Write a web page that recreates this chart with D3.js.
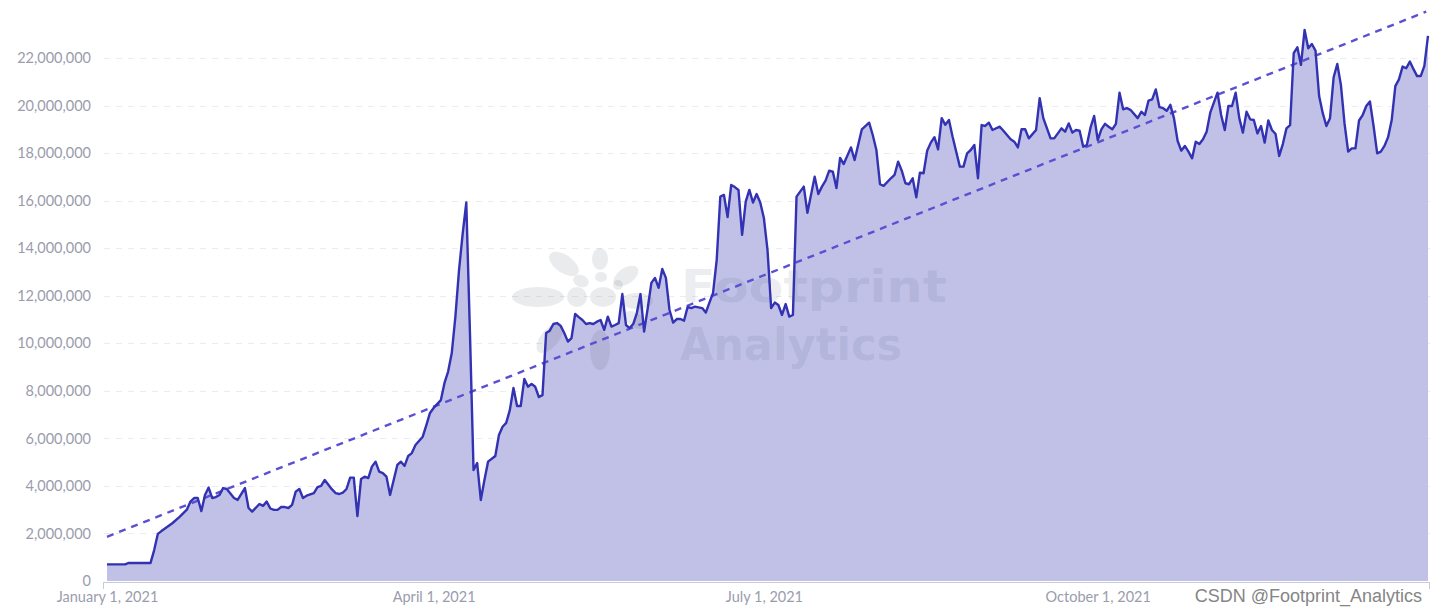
<!DOCTYPE html>
<html>
<head>
<meta charset="utf-8">
<script src="https://cdn.jsdelivr.net/npm/d3@7"></script>
<style>
  html, body { margin: 0; padding: 0; background: #fff; }
  svg { display: block; }
</style>
</head>
<body>
<div id="chart"></div>
<script>
// [day offset from 2021-01-01, value in millions]
const dailySeries = [
  [0,0.70],[5,0.70],[6,0.76],[12,0.76],[13,1.30],[14,1.98],[15,2.10],[18,2.43],[20,2.70],[22,3.00],
  [23,3.34],[24,3.49],[25,3.49],[26,2.94],[27,3.62],[28,3.93],[29,3.49],[30,3.53],[31,3.62],[32,3.91],
  [33,3.87],[35,3.49],[36,3.41],[38,3.91],[39,3.07],[40,2.92],[42,3.24],[43,3.16],[44,3.34],[45,3.05],
  [46,2.99],[47,2.99],[48,3.11],[49,3.11],[50,3.07],[51,3.20],[52,3.76],[53,3.87],[54,3.49],[55,3.59],
  [57,3.70],[58,3.95],[59,4.00],[60,4.25],[61,4.05],[62,3.85],[63,3.70],[64,3.66],[65,3.72],[66,3.87],
  [67,4.35],[68,4.35],[69,2.73],[70,4.29],[71,4.39],[72,4.33],[73,4.81],[74,5.02],[75,4.60],[76,4.54],
  [77,4.39],[78,3.62],[79,4.25],[80,4.88],[81,5.02],[82,4.84],[83,5.26],[84,5.38],[85,5.72],[87,6.07],
  [88,6.56],[89,7.07],[90,7.28],[92,7.61],[93,8.33],[94,8.81],[95,9.59],[96,11.12],[97,13.08],[98,14.60],
  [99,15.92],[100,10.50],[101,4.67],[102,4.96],[103,3.41],[104,4.25],[105,5.02],[107,5.26],[108,6.14],[109,6.49],
  [110,6.65],[111,7.19],[112,8.12],[113,7.36],[114,7.36],[115,8.50],[116,8.17],[117,8.29],[118,8.17],[119,7.74],
  [120,7.82],[121,10.43],[122,10.53],[123,10.81],[124,10.85],[125,10.73],[126,10.43],[127,10.07],[128,10.22],[129,11.23],
  [130,11.10],[131,10.98],[132,10.81],[133,10.85],[134,10.81],[135,10.91],[136,10.98],[137,10.56],[138,11.12],[139,10.70],
  [140,10.77],[141,10.85],[142,12.07],[143,10.77],[144,10.64],[145,10.81],[146,11.27],[147,12.07],[148,10.49],[149,11.48],
  [150,12.54],[151,12.75],[152,12.33],[153,13.13],[154,12.75],[155,11.40],[156,10.87],[157,11.02],[158,11.02],[159,10.95],
  [160,11.53],[161,11.48],[162,11.54],[164,11.48],[165,11.29],[166,11.71],[167,12.12],[168,13.50],[169,16.17],[170,16.24],
  [171,15.31],[172,16.66],[173,16.57],[174,16.45],[175,14.56],[176,15.96],[177,16.45],[178,15.92],[179,16.28],[180,15.92],
  [181,15.27],[182,13.93],[183,11.48],[184,11.71],[185,11.61],[186,11.19],[187,11.65],[188,11.12],[189,11.19],[190,16.17],
  [192,16.59],[193,15.49],[195,17.01],[196,16.28],[197,16.59],[198,16.84],[199,17.26],[200,17.22],[201,16.53],[202,17.80],
  [203,17.54],[205,18.24],[206,17.71],[208,19.00],[210,19.28],[211,18.76],[212,18.13],[213,16.69],[214,16.62],[216,16.94],
  [217,17.08],[218,17.64],[219,17.26],[220,16.73],[221,16.69],[222,16.94],[223,16.14],[224,17.18],[225,17.15],[226,18.10],
  [227,18.44],[228,18.67],[229,18.16],[230,19.47],[231,19.19],[232,19.39],[233,18.69],[235,17.43],[236,17.43],[237,17.99],
  [238,18.13],[239,18.34],[240,16.94],[241,19.18],[242,19.14],[243,19.28],[244,18.97],[246,19.11],[247,18.94],[249,18.58],
  [250,18.48],[251,18.24],[252,19.00],[253,19.00],[254,18.62],[256,18.97],[257,20.31],[258,19.47],[260,18.62],[261,18.62],
  [262,18.83],[263,19.04],[264,18.90],[265,19.25],[266,18.86],[267,18.97],[268,18.94],[269,18.27],[270,18.34],[271,19.07],
  [272,19.56],[273,18.55],[274,19.00],[275,19.23],[276,19.11],[277,19.00],[278,19.23],[279,20.54],[280,19.84],[281,19.89],
  [282,19.82],[284,19.47],[285,19.74],[286,19.60],[287,20.21],[288,20.26],[289,20.68],[290,19.93],[291,19.89],[292,19.78],
  [293,20.03],[294,19.47],[295,18.52],[296,18.10],[297,18.30],[298,18.06],[299,17.78],[300,18.48],[301,18.38],[302,18.58],
  [303,18.90],[304,19.70],[305,20.12],[306,20.54],[307,19.60],[308,18.97],[309,19.98],[310,19.98],[311,20.54],[312,19.47],
  [313,18.86],[314,19.74],[315,19.42],[316,19.39],[317,18.83],[318,19.14],[319,18.44],[320,19.37],[321,18.97],[322,18.80],
  [323,17.88],[324,18.38],[325,19.04],[326,19.18],[327,22.20],[328,22.45],[329,21.71],[330,23.18],[331,22.41],[332,22.59],
  [333,22.31],[334,20.40],[335,19.68],[336,19.14],[337,19.47],[338,21.19],[339,21.75],[340,20.87],[341,19.25],[342,18.06],
  [343,18.20],[344,18.20],[345,19.37],[346,19.60],[347,19.98],[348,20.17],[349,19.14],[350,17.99],[351,18.06],[352,18.30],
  [353,18.67],[354,19.39],[355,20.82],[356,21.10],[357,21.64],[358,21.57],[359,21.85],[360,21.53],[361,21.24],[362,21.24],
  [363,21.67],[364,22.93]
];

// trend line end points (day offset, value in millions)
const trendDays = [0, 363.5];
const trendValues = [1.86, 23.95];

const yTicks = [0, 2e6, 4e6, 6e6, 8e6, 10e6, 12e6, 14e6, 16e6, 18e6, 20e6, 22e6];
const xTickDates = ["2021-01-01", "2021-04-01", "2021-07-01", "2021-10-01"];

const startDate = Date.UTC(2021, 0, 1);
const endDate = Date.UTC(2021, 11, 31);

const width = 1438, height = 615;
const labelColor = "#9a9cad";
const labelFont = "Lato, 'Open Sans', sans-serif";

const svg = d3.select("#chart").append("svg")
    .attr("width", width)
    .attr("height", height);

const x = d3.scaleUtc()
    .domain([new Date(startDate), new Date(endDate)])
    .range([107, 1428]);

const y = d3.scaleLinear()
    .domain([0, 22000000])
    .range([581, 58]);

const dayToDate = d => new Date(startDate + d * 864e5);
const points = dailySeries.map(([d, v]) => ({ date: dayToDate(d), value: v * 1e6 }));

// gridlines
svg.append("g")
    .selectAll("line")
    .data(yTicks.slice(1))
    .join("line")
    .attr("x1", 104)
    .attr("x2", 1432)
    .attr("y1", d => Math.round(y(d)) + 0.5)
    .attr("y2", d => Math.round(y(d)) + 0.5)
    .attr("stroke", "#ececf0")
    .attr("stroke-dasharray", "6,6");

// area
const area = d3.area()
    .x(d => x(d.date))
    .y0(y(0))
    .y1(d => y(d.value));

svg.append("path")
    .datum(points)
    .attr("fill", "#c1c1e7")
    .attr("d", area);

// watermark
const wm = svg.append("g").attr("fill", "rgba(60,70,95,0.11)");
const blobs = [
    [538, 297, 26, 10, 0], [564, 264, 17, 9, 35], [600, 259, 8, 11, 0], [581, 281, 8, 6, 20],
    [601, 277, 6, 5, 0], [626, 276, 14, 8, -35], [618, 285, 5, 5, 0], [577, 297, 10, 10, 0],
    [603, 297, 13, 10, 0], [637, 301, 16, 8, 0], [550, 338, 18, 9, -50], [600, 350, 10, 20, 0],
    [635, 320, 12, 7, 35]
];
wm.selectAll("ellipse")
    .data(blobs)
    .join("ellipse")
    .attr("cx", d => d[0]).attr("cy", d => d[1])
    .attr("rx", d => d[2]).attr("ry", d => d[3])
    .attr("transform", d => `rotate(${d[4]},${d[0]},${d[1]})`);
wm.append("text")
    .attr("x", 681).attr("y", 302)
    .attr("font-family", "'DejaVu Sans', sans-serif")
    .attr("font-weight", "bold")
    .attr("font-size", 45)
    .attr("textLength", 266)
    .attr("lengthAdjust", "spacingAndGlyphs")
    .text("Footprint");
wm.append("text")
    .attr("x", 680).attr("y", 360)
    .attr("font-family", "'DejaVu Sans', sans-serif")
    .attr("font-weight", "bold")
    .attr("font-size", 45)
    .attr("textLength", 222)
    .attr("lengthAdjust", "spacingAndGlyphs")
    .text("Analytics");

// trend line
const trend = d3.line()
    .x(d => x(dayToDate(d[0])))
    .y(d => y(d[1] * 1e6));

svg.append("path")
    .datum(trendDays.map((d, i) => [d, trendValues[i]]))
    .attr("fill", "none")
    .attr("stroke", "#5a50d2")
    .attr("stroke-width", 2.4)
    .attr("stroke-dasharray", "7,6")
    .attr("d", trend);

// main line
const line = d3.line()
    .x(d => x(d.date))
    .y(d => y(d.value));

svg.append("path")
    .datum(points)
    .attr("fill", "none")
    .attr("stroke", "#3232b2")
    .attr("stroke-width", 2.4)
    .attr("stroke-linejoin", "round")
    .attr("d", line);

// y axis
const yAxis = svg.append("g")
    .attr("transform", "translate(103,0)")
    .call(d3.axisLeft(y).tickValues(yTicks).tickFormat(d3.format(",")).tickSize(0).tickPadding(12));
yAxis.select(".domain").remove();
yAxis.selectAll("text")
    .attr("fill", labelColor)
    .attr("font-family", labelFont)
    .attr("font-size", 14.5);

// x axis
const xAxis = svg.append("g")
    .attr("transform", "translate(0,582)")
    .call(d3.axisBottom(x)
        .tickValues(xTickDates.map(s => new Date(s + "T00:00:00Z")))
        .tickFormat(d3.utcFormat("%B %-d, %Y"))
        .tickSize(0)
        .tickPadding(10));
xAxis.select(".domain").remove();
xAxis.selectAll("text")
    .attr("fill", labelColor)
    .attr("font-family", labelFont)
    .attr("font-size", 14.5);

svg.append("line")
    .attr("x1", 103).attr("x2", 1430)
    .attr("y1", 582.5).attr("y2", 582.5)
    .attr("stroke", "#c9cad3");
svg.selectAll(".edge-tick")
    .data([103.5, 1429.5])
    .join("line")
    .attr("class", "edge-tick")
    .attr("x1", d => d).attr("x2", d => d)
    .attr("y1", 582).attr("y2", 589)
    .attr("stroke", "#c9cad3");

// CSDN credit
svg.append("text")
    .attr("x", 1422).attr("y", 602)
    .attr("text-anchor", "end")
    .attr("font-family", "'Liberation Sans', Arial, sans-serif")
    .attr("font-size", 18)
    .attr("fill", "#858585")
    .text("CSDN @Footprint_Analytics");
</script>
</body>
</html>
